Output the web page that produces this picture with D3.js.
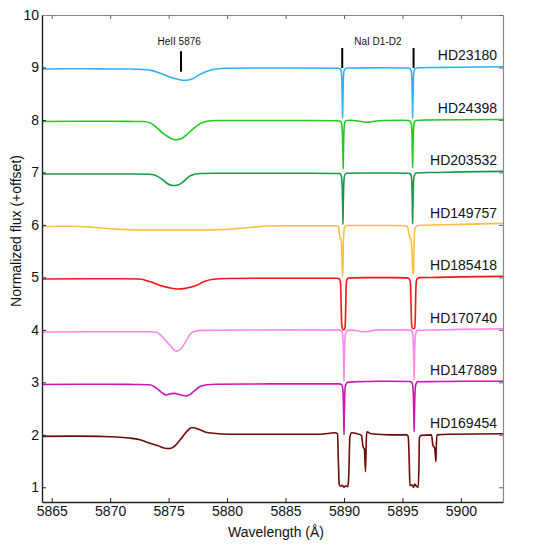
<!DOCTYPE html>
<html>
<head>
<meta charset="utf-8">
<script src="https://cdn.jsdelivr.net/npm/d3@7"></script>
<style>
  html, body { margin: 0; padding: 0; background: #fff; }
  svg { display: block; font-family: "Liberation Sans", Arial, sans-serif; }
</style>
</head>
<body>
<svg id="chart" width="547" height="545"></svg>
<script>
const xTicks = [5865, 5870, 5875, 5880, 5885, 5890, 5895, 5900];
const yTicks = [1, 2, 3, 4, 5, 6, 7, 8, 9, 10];
const stars = ["HD23180", "HD24398", "HD203532", "HD149757", "HD185418", "HD170740", "HD147889", "HD169454"];
const offsets = [8, 7, 6, 5, 4, 3, 2, 1];
const colors = ["#30b0f8", "#1ecb1e", "#18984a", "#ffbf40", "#f51515", "#ff88e8", "#cc16b4", "#6e0a0a"];

// [wavelength (Å), normalized flux]
const hd23180 = [[5864.0,0.97],[5866,0.975],[5868,0.975],[5870,0.972],[5871.5,0.97],[5872.5,0.965],[5873.5,0.945],[5874.3,0.89],[5875.1,0.82],[5875.8,0.775],[5876.4,0.755],[5877.0,0.78],[5877.7,0.87],[5878.3,0.93],[5878.9,0.965],[5880,0.985],[5883,0.99],[5886,0.99],[5889.5,0.985],
  [5889.68,0.975],[5889.76,0.93],[5889.82,0.75],[5889.86,0.3],[5889.88,0.03],[5889.90,0.3],[5889.94,0.75],[5890.0,0.93],[5890.1,0.975],[5890.3,0.99],
  [5891,0.99],[5893,0.995],[5895.5,0.99],
  [5895.68,0.975],[5895.75,0.93],[5895.81,0.75],[5895.85,0.3],[5895.87,0.03],[5895.89,0.3],[5895.93,0.75],[5895.99,0.93],[5896.1,0.98],[5896.4,0.995],
  [5898,1.0],[5900,1.005],[5902,1.01],[5903.8,1.015]];
const hd24398 = [[5864.0,0.97],[5867,0.975],[5870,0.975],[5872,0.972],[5872.8,0.97],[5873.4,0.945],[5874.0,0.85],[5874.5,0.75],[5875.1,0.66],[5875.6,0.62],[5876.1,0.645],[5876.6,0.73],[5877.1,0.83],[5877.7,0.93],[5878.3,0.975],[5879,0.99],[5882,0.99],[5886,0.99],[5889.3,0.985],[5889.6,0.98],
  [5889.72,0.97],[5889.8,0.92],[5889.87,0.7],[5889.91,0.3],[5889.93,0.07],[5889.95,0.3],[5889.99,0.75],[5890.06,0.95],[5890.2,0.99],
  [5890.6,0.995],[5891.2,0.98],[5891.9,0.955],[5892.6,0.975],[5893.3,0.99],[5895.0,0.995],[5895.5,0.99],
  [5895.68,0.975],[5895.76,0.92],[5895.82,0.7],[5895.85,0.3],[5895.87,0.09],[5895.89,0.3],[5895.93,0.75],[5896.0,0.94],[5896.15,0.99],
  [5897,1.0],[5900,1.005],[5903.8,1.01]];
const hd203532 = [[5864.0,0.97],[5868,0.97],[5872,0.97],[5873.3,0.965],[5873.7,0.955],[5874.1,0.92],[5874.55,0.85],[5874.95,0.78],[5875.4,0.75],[5875.8,0.76],[5876.25,0.82],[5876.8,0.93],[5877.3,0.97],[5877.7,0.98],[5879,0.985],[5883,0.985],[5887,0.985],[5889.6,0.98],
  [5889.7,0.97],[5889.78,0.92],[5889.85,0.7],[5889.89,0.3],[5889.91,0.01],[5889.93,0.3],[5889.97,0.72],[5890.04,0.93],[5890.2,0.985],
  [5892,0.99],[5894,0.99],[5895.5,0.985],
  [5895.68,0.97],[5895.76,0.92],[5895.82,0.7],[5895.85,0.3],[5895.87,0.02],[5895.89,0.3],[5895.93,0.72],[5896.0,0.93],[5896.15,0.99],
  [5898,1.0],[5900,1.01],[5903.8,1.02]];
const hd149757 = [[5864.0,0.97],[5866,0.975],[5867.5,0.97],[5868.5,0.955],[5869.5,0.935],[5870.5,0.92],[5871.5,0.91],[5873,0.905],[5876,0.905],[5878,0.905],[5879.5,0.91],[5880.6,0.925],[5881.7,0.945],[5882.6,0.965],[5883.4,0.98],[5885,0.985],[5889.3,0.985],
  [5889.5,0.975],[5889.57,0.93],[5889.62,0.8],[5889.67,0.75],[5889.74,0.73],[5889.8,0.55],[5889.85,0.15],[5889.88,0.02],[5889.91,0.2],[5889.96,0.75],[5890.04,0.95],[5890.25,0.99],
  [5892,0.99],[5894,0.99],[5895.2,0.985],
  [5895.4,0.975],[5895.48,0.93],[5895.55,0.82],[5895.62,0.77],[5895.7,0.75],[5895.8,0.55],[5895.88,0.15],[5895.93,0.05],[5895.96,0.2],[5896.01,0.75],[5896.09,0.95],[5896.3,0.99],
  [5898,1.0],[5900,1.01],[5903.8,1.03]];
const hd185418 = [[5864.0,0.97],[5868,0.975],[5871,0.975],[5872.5,0.97],[5873.4,0.92],[5874.3,0.845],[5875.1,0.8],[5875.8,0.78],[5876.4,0.79],[5877.1,0.825],[5877.5,0.86],[5878.0,0.915],[5878.8,0.965],[5880,0.98],[5884,0.985],[5889.4,0.985],
  [5889.62,0.965],[5889.7,0.9],[5889.75,0.55],[5889.8,0.12],[5889.88,0.02],[5889.98,0.0],[5890.08,0.03],[5890.13,0.25],[5890.18,0.8],[5890.25,0.96],[5890.45,0.99],
  [5892,0.995],[5894,0.995],[5895.4,0.99],
  [5895.6,0.965],[5895.68,0.9],[5895.73,0.55],[5895.78,0.12],[5895.86,0.03],[5895.95,0.02],[5896.05,0.04],[5896.1,0.25],[5896.15,0.8],[5896.22,0.96],[5896.45,0.995],
  [5898,1.0],[5900,1.01],[5903.8,1.02]];
const hd170740 = [[5864.0,0.96],[5868,0.965],[5872,0.965],[5873.4,0.965],[5873.95,0.955],[5874.5,0.86],[5875.1,0.71],[5875.65,0.595],[5876.1,0.65],[5876.5,0.79],[5876.85,0.92],[5877.2,0.97],[5878,0.99],[5880,0.995],[5885,1.0],[5889.6,0.995],
  [5889.8,0.98],[5889.88,0.92],[5889.94,0.7],[5889.98,0.3],[5890.0,0.02],[5890.02,0.3],[5890.06,0.72],[5890.13,0.93],[5890.3,0.99],
  [5890.8,0.995],[5891.3,0.975],[5891.9,0.965],[5892.4,0.985],[5892.9,1.0],[5894.5,1.0],[5895.7,0.995],
  [5895.8,0.98],[5895.88,0.92],[5895.94,0.7],[5895.98,0.3],[5896.0,0.05],[5896.02,0.3],[5896.06,0.72],[5896.13,0.93],[5896.3,0.99],
  [5898,1.0],[5900,1.01],[5903.8,1.02]];
const hd147889 = [[5864.0,0.96],[5867,0.965],[5870,0.965],[5872,0.96],[5873.4,0.955],[5873.95,0.89],[5874.45,0.8],[5874.8,0.76],[5875.2,0.785],[5875.5,0.79],[5876.0,0.765],[5876.45,0.74],[5876.85,0.77],[5877.1,0.82],[5877.7,0.92],[5878.3,0.955],[5879,0.965],[5884,0.97],[5889.6,0.97],
  [5889.8,0.96],[5889.88,0.9],[5889.94,0.7],[5889.98,0.3],[5890.0,0.0],[5890.02,0.3],[5890.06,0.72],[5890.13,0.94],[5890.3,1.0],
  [5891,1.01],[5893,1.02],[5895.6,1.015],
  [5895.8,1.0],[5895.88,0.93],[5895.94,0.7],[5895.98,0.3],[5896.0,0.06],[5896.02,0.3],[5896.06,0.72],[5896.13,0.95],[5896.3,1.01],
  [5898,1.015],[5900,1.02],[5903.8,1.02]];
const hd169454 = [[5864.0,0.97],[5867,0.975],[5869,0.97],[5870.56,0.96],[5871.6,0.94],[5872.55,0.905],[5873.4,0.84],[5874.1,0.79],[5874.69,0.745],[5875.12,0.74],[5875.46,0.775],[5875.97,0.9],[5876.54,1.06],[5876.97,1.14],[5877.25,1.13],[5877.68,1.095],[5878.2,1.05],[5878.82,1.03],[5880.25,1.01],[5884,1.01],[5888,1.01],[5889.22,1.04],[5889.45,1.02],
  [5889.52,0.5],[5889.59,0.05],[5889.7,0.02],[5889.85,0.04],[5890.0,0.0],[5890.15,0.03],[5890.3,0.01],[5890.36,0.05],[5890.42,0.3],[5890.5,0.95],[5890.65,1.04],[5891.0,1.03],[5891.5,0.99],
  [5891.62,0.78],[5891.75,0.72],[5891.84,0.3],[5891.9,0.85],[5891.95,1.06],[5892.3,1.02],[5894,1.0],[5895.35,1.0],[5895.49,0.97],
  [5895.58,0.5],[5895.64,0.03],[5895.8,0.05],[5895.95,0.0],[5896.05,0.06],[5896.2,0.02],[5896.35,0.0],[5896.41,0.4],[5896.45,0.95],[5896.6,0.99],[5897.49,1.0],
  [5897.6,0.8],[5897.75,0.75],[5897.82,0.6],[5897.86,0.49],[5897.9,0.8],[5897.95,1.0],[5899,1.01],[5903.8,1.02]];
const spectra = [hd23180, hd24398, hd203532, hd149757, hd185418, hd170740, hd147889, hd169454];

// line identifications: label, label wavelength, marker wavelengths, marker top/bottom (flux units)
const annLabels = ["HeII 5876", "NaI D1-D2"];
const annLabelWl = [5875.9, 5892.9];
const annLabelY = [9.43, 9.43];
const markerWl = [5876.06, 5889.85, 5895.95];
const markerTop = [9.31, 9.37, 9.37];
const markerBottom = [8.92, 8.99, 8.99];

const svg = d3.select("#chart");
const x = d3.scaleLinear().domain([5864.17, 5903.6]).range([42, 503]);
const y = d3.scaleLinear().domain([0.72, 10]).range([502, 15]);

svg.append("defs").append("clipPath").attr("id", "clip")
  .append("rect").attr("x", 42).attr("y", 15).attr("width", 461).attr("height", 487);

const line = d3.line().x(d => x(d[0])).y(d => y(d[1])).curve(d3.curveMonotoneX);

const g = svg.append("g").attr("clip-path", "url(#clip)");
spectra.forEach((s, i) => {
  g.append("path")
    .datum(s.map(p => [p[0], p[1] + offsets[i]]))
    .attr("d", line)
    .attr("fill", "none")
    .attr("stroke", colors[i])
    .attr("stroke-width", 1.6)
    .attr("stroke-linejoin", "round");
});

// star labels
stars.forEach((name, i) => {
  svg.append("text")
    .attr("x", x.range()[1] - 6)
    .attr("y", y(offsets[i] + 1) - 7)
    .attr("text-anchor", "end")
    .attr("font-size", 14)
    .attr("fill", "#111")
    .text(name);
});

// annotations
annLabels.forEach((t, i) => {
  svg.append("text")
    .attr("x", x(annLabelWl[i]))
    .attr("y", y(annLabelY[i]))
    .attr("text-anchor", "middle")
    .attr("font-size", 10)
    .attr("fill", "#111")
    .text(t);
});
markerWl.forEach((w, i) => {
  svg.append("line")
    .attr("x1", x(w)).attr("x2", x(w))
    .attr("y1", y(markerTop[i])).attr("y2", y(markerBottom[i]))
    .attr("stroke", "#000").attr("stroke-width", 2);
});

// axes
const axB = svg.append("g").attr("transform", "translate(0,502)")
  .call(d3.axisBottom(x).tickValues(xTicks).tickSizeInner(-4).tickSizeOuter(0).tickPadding(4.5).tickFormat(d3.format("d")));
const axL = svg.append("g").attr("transform", "translate(42,0)")
  .call(d3.axisLeft(y).tickValues(yTicks).tickSizeInner(-4).tickSizeOuter(0).tickPadding(3).tickFormat(d3.format("d")));
const axT = svg.append("g").attr("transform", "translate(0,15)")
  .call(d3.axisTop(x).tickValues(xTicks).tickSizeInner(-4).tickSizeOuter(0).tickFormat(""));
const axR = svg.append("g").attr("transform", "translate(503,0)")
  .call(d3.axisRight(y).tickValues(yTicks).tickSizeInner(-4).tickSizeOuter(0).tickFormat(""));

[axB, axL].forEach(a => {
  a.select(".domain").attr("stroke", "#222").attr("stroke-width", 1.4);
  a.selectAll(".tick line").attr("stroke", "#222");
  a.selectAll(".tick text").attr("font-size", 14).attr("fill", "#111").attr("font-family", "Liberation Sans, Arial, sans-serif");
});
[axT, axR].forEach(a => {
  a.select(".domain").attr("stroke", "#888").attr("stroke-width", 1.2);
  a.selectAll(".tick line").attr("stroke", "#666");
});

// axis titles
svg.append("text")
  .attr("x", 276).attr("y", 537)
  .attr("text-anchor", "middle")
  .attr("font-size", 14).attr("fill", "#111")
  .text("Wavelength (Å)");
svg.append("text")
  .attr("transform", "translate(21,231) rotate(-90)")
  .attr("text-anchor", "middle")
  .attr("font-size", 14).attr("fill", "#111")
  .text("Normalized flux (+offset)");
</script>
</body>
</html>
